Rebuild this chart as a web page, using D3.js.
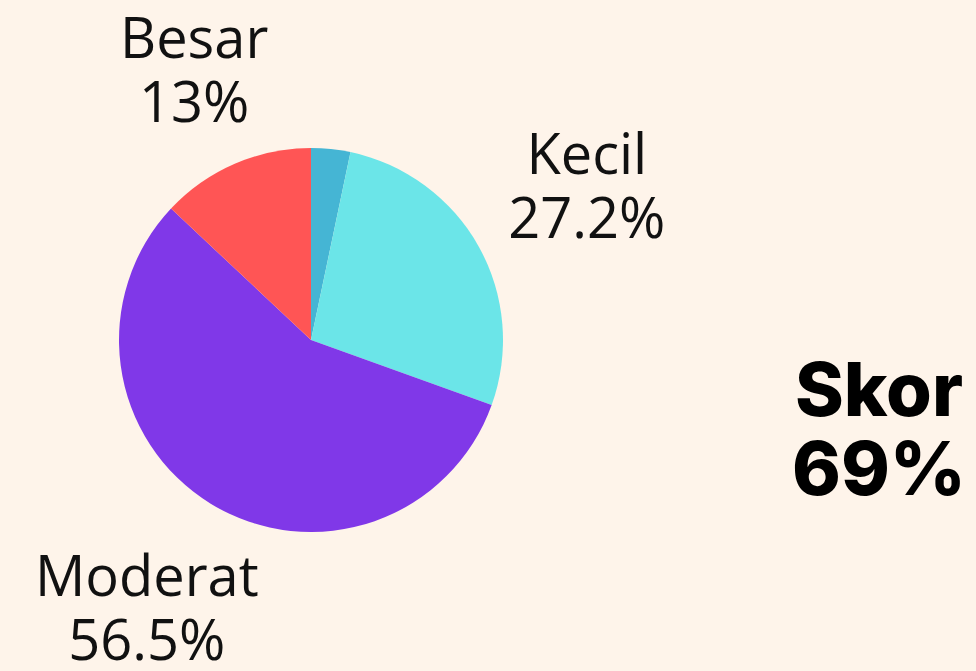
<!DOCTYPE html>
<html>
<head>
<meta charset="utf-8">
<script src="https://cdn.jsdelivr.net/npm/d3@7"></script>
<style>
  html, body { margin: 0; padding: 0; background: #fef4ea; }
  svg { display: block; }
  .label { font-family: "Open Sans", Lato, sans-serif; font-size: 56px; fill: #111; }
  .score { font-family: Inter, Roboto, sans-serif; font-weight: 800; font-size: 74px; fill: #000; }
</style>
</head>
<body>
<svg id="chart" width="976" height="671"></svg>
<script>
var categories = ['Lainnya', 'Kecil', 'Moderat', 'Besar'];
var values     = [3.3, 27.2, 56.5, 13];
var shown      = [false, true, true, true];
var colors     = ['#45b5d4', '#6be5e8', '#8038e8', '#ff5555'];
var scoreLines = ['Skor', '69%'];

var W = 976, H = 671;
var cx = 311, cy = 340, radius = 192;
var labelGap = 222;     // nearest edge of each label block sits this far from the centre
var fontSize = 56, lineH = 64, capH = 0.72 * fontSize;

var svg = d3.select('#chart');
svg.append('rect').attr('width', W).attr('height', H).attr('fill', '#fef4ea');

var pie = d3.pie().sort(null).value(d => d.value);
var arc = d3.arc().innerRadius(0).outerRadius(radius);

var data = categories.map((c, i) => ({ name: c, value: values[i], show: shown[i], color: colors[i] }));
var arcs = pie(data);

var g = svg.append('g').attr('transform', `translate(${cx},${cy})`);

g.selectAll('path.slice')
    .data(arcs)
    .enter().append('path')
    .attr('class', 'slice')
    .attr('d', arc)
    .attr('fill', d => d.data.color)
;

function nearestDist(x, y, a, b) {
    var nx = Math.max(x - a, Math.min(0, x + a));
    var ny = Math.max(y - b, Math.min(0, y + b));
    return Math.hypot(nx, ny);
}

g.selectAll('g.lbl')
    .data(arcs.filter(d => d.data.show))
    .enter().append('g')
    .attr('class', 'lbl')
    .each(function (d) {
        var _this = d3.select(this);
        var t = _this.append('text').attr('class', 'label').attr('text-anchor', 'middle');
        t.append('tspan').attr('x', 0).attr('y', 0).text(d.data.name);
        t.append('tspan').attr('x', 0).attr('y', lineH).text(d3.format('~')(d.data.value) + '%');
        var a = t.node().getBBox().width / 2;
        var b = (lineH + capH) / 2;
        var mid = (d.startAngle + d.endAngle) / 2;
        var sx = Math.sin(mid), sy = -Math.cos(mid);
        var lo = 0, hi = 600;
        for (var k = 0; k < 40; k++) {
            var m = (lo + hi) / 2;
            if (nearestDist(sx * m, sy * m, a, b) < labelGap) lo = m; else hi = m;
        }
        var bx = sx * lo, by = sy * lo;
        // text origin is the first baseline; block centre is (lineH - capH) / 2 below it
        _this.attr('transform', `translate(${bx},${by - (lineH - capH) / 2})`);
    })
;

var score = svg.append('text')
    .attr('class', 'score')
    .attr('text-anchor', 'middle')
;
scoreLines.forEach((s, i) => {
    score.append('tspan').attr('x', 879).attr('y', 416 + i * 79).text(s);
});
</script>
</body>
</html>
